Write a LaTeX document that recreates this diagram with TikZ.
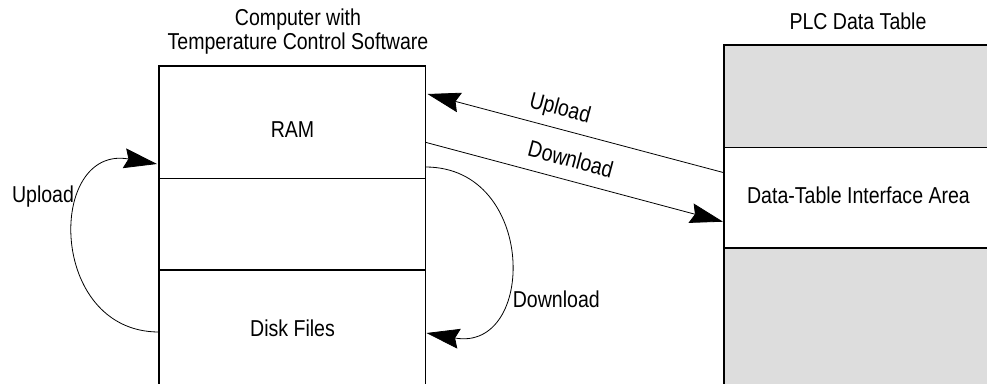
\documentclass[tikz,border=0pt]{standalone}
\usepackage{fontspec}
\setmainfont{Liberation Sans}[FakeStretch=0.85]
\usetikzlibrary{arrows.meta}
\definecolor{panelgray}{RGB}{221,221,221}
\begin{document}
\begin{tikzpicture}[x=1pt,y=-1pt,
  cell/.style={draw=black, line width=1.1pt, inner sep=0pt, outer sep=0pt, anchor=north west},
  graycell/.style={cell, fill=panelgray},
  lbl/.style={anchor=base, inner sep=0pt, font=\fontsize{23}{27}\selectfont},
  slbl/.style={lbl, sloped, yshift=13pt},
  link/.style={line width=0.8pt, -{Stealth[length=33pt,width=20pt,inset=4pt]}}
]
\useasboundingbox (0,0) rectangle (987,383);
\clip (0,0) rectangle (987,383);

% computer memory column
\node[cell, minimum width=266.5pt, minimum height=112.5pt] (ram)  at (159,66)    {};
\node[cell, minimum width=266.5pt, minimum height=91.5pt]  (mid)  at (159,178.5) {};
\node[cell, minimum width=266.5pt, minimum height=140pt]   (disk) at (159,270)   {};

% PLC data table column
\node[graycell, minimum width=290pt, minimum height=102.5pt] (top) at (724,45)    {};
\node[cell,     minimum width=290pt, minimum height=100.5pt] (ifa) at (724,147.5) {};
\node[graycell, minimum width=290pt, minimum height=150pt]   (bot) at (724,248)   {};

% texts
\node[lbl] (t1) at (298,25) {Computer with};
\node[lbl] (t2) at (298,49) {Temperature Control Software};
\node[lbl] (plc) at (858,29.3) {PLC Data Table};
\node[lbl] (ramtxt) at (292.5,137.3) {RAM};
\node[lbl] (disktxt) at (292.5,336.5) {Disk Files};
\node[lbl] (ifatxt) at (858.5,203.3) {Data-Table Interface Area};
\node[lbl] (uptxt) at (43,202.5) {Upload};
\node[lbl] (dntxt) at (556.3,307.3) {Download};

% connectors
\draw[link] ([yshift=-25.2pt]ifa.north west) -- node[slbl, pos=0.57] (upl) {Upload} ([xshift=2pt,yshift=-28pt]ram.north east);
\draw[link] ([yshift=-76.3pt]ram.north east) -- node[slbl, pos=0.47] (dnl) {Download} ([xshift=-1pt,yshift=-74.2pt]ifa.north west);
\draw[link] ([yshift=-62pt]disk.north west) to[out=180,in=170,looseness=1.7] ([xshift=-2pt,yshift=-98pt]ram.north west);
\draw[link] ([yshift=-101pt]ram.north east) to[out=0,in=-10,looseness=1.72] ([xshift=1pt,yshift=-63pt]disk.north east);
\end{tikzpicture}
\end{document}
